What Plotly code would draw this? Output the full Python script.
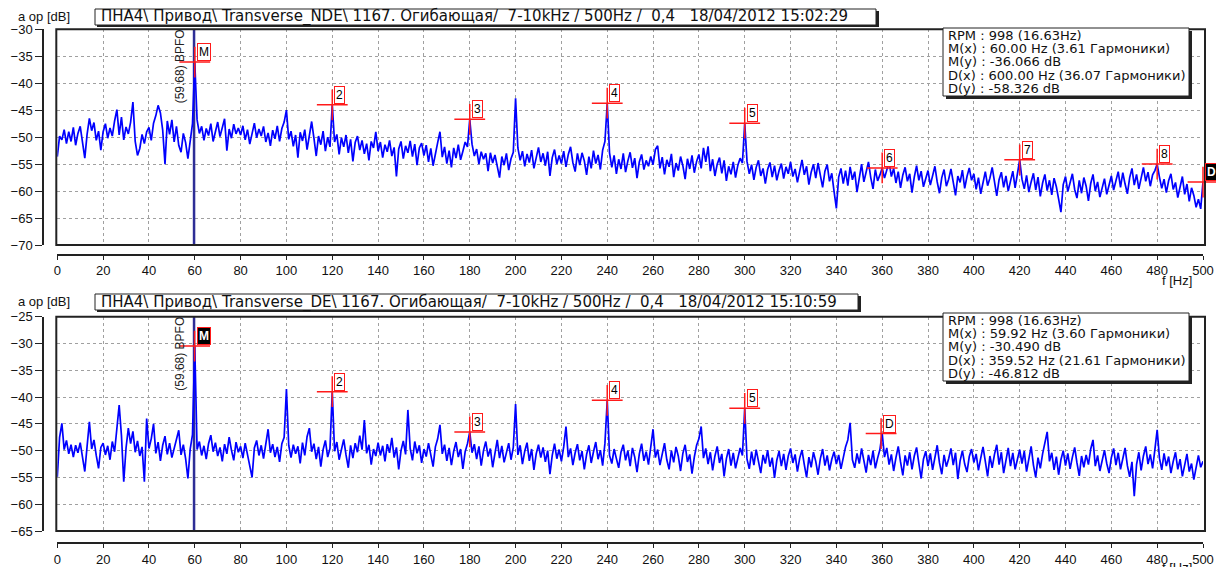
import plotly.graph_objects as go

# ---------------- data ----------------
freq_hz = list(range(0, 501))

# Transverse_NDE envelope spectrum, dB (0..500 Hz, 1 Hz step)
nde_db = [
    -53.6, -49.8, -50.5, -48.6, -51.2, -49.0, -50.8, -48.2, -51.5, -49.3, -48.0, -51.0, -53.9, -49.5, -46.5, -48.8, -47.3, -50.6, -48.9, -52.4,
    -49.0, -47.5, -50.2, -48.3, -49.8, -47.0, -44.9, -49.6, -46.3, -50.5, -48.1, -49.4, -47.2, -43.5, -50.8, -53.4, -52.1, -49.5, -51.2, -49.0,
    -48.2, -50.6, -47.4, -46.0, -44.1, -45.5, -48.7, -55.0, -47.0, -49.5, -46.8, -50.9, -48.0, -51.5, -52.8, -49.3, -51.0, -54.0, -50.2, -47.5,
    -36.1, -46.8, -49.3, -48.0, -50.6, -48.4, -49.7, -47.5, -50.8, -48.8, -47.2, -49.9, -48.1, -46.6, -52.5, -48.5, -50.2, -47.6, -49.4, -48.3,
    -49.6, -47.9, -50.5, -48.6, -51.3, -49.0, -47.4, -50.1, -48.5, -49.8, -48.0, -50.9, -49.2, -51.6, -48.7, -50.3, -47.9, -50.8, -48.4, -47.2,
    -45.0, -50.4, -48.9, -51.7, -49.6, -53.8, -49.1, -50.7, -48.6, -52.3, -49.4, -47.1, -50.2, -53.5, -49.8, -51.4, -48.9, -52.6, -50.0, -51.8,
    -44.0, -50.9, -49.5, -53.2, -50.1, -51.8, -49.6, -52.9, -50.4, -54.5, -51.0, -49.8, -52.4, -50.6, -53.1, -51.2, -54.3, -50.8, -52.0, -49.0,
    -52.6, -50.9, -53.8, -51.4, -52.7, -50.6, -53.5, -51.9, -57.3, -52.2, -50.8, -54.0, -51.6, -52.9, -50.7, -53.6, -51.3, -55.2, -52.0, -51.1,
    -53.4, -51.5, -54.6, -52.1, -55.3, -52.8, -51.0, -49.0, -53.7, -51.8, -54.9, -52.5, -55.6, -52.0, -53.9, -51.4, -54.2, -52.6, -50.9, -51.8,
    -46.7, -51.3, -53.5, -52.2, -55.0, -52.7, -54.1, -53.0, -56.3, -52.9, -54.8, -53.3, -55.7, -57.5, -53.6, -55.2, -53.0, -56.1, -54.0, -52.8,
    -42.8, -52.0, -54.3, -52.6, -55.4, -53.1, -54.7, -52.4, -55.8, -53.5, -51.9, -54.6, -53.0, -55.3, -52.7, -57.2, -53.8, -52.3, -55.0, -53.4,
    -54.9, -52.6, -55.5, -53.2, -51.8, -54.7, -56.4, -53.0, -55.2, -52.9, -54.4, -57.0, -53.6, -55.8, -52.5, -54.9, -53.3, -56.0, -52.4, -50.8,
    -43.7, -52.9, -55.6, -53.4, -56.8, -54.1, -55.9, -53.0, -56.5, -54.4, -52.8, -55.7, -53.9, -57.6, -54.6, -53.2, -56.0, -54.3, -55.4, -53.6,
    -55.1, -52.3, -51.6, -55.8, -53.7, -56.9, -54.2, -55.5, -53.1, -57.4, -54.8, -56.2, -53.6, -55.3, -57.8, -54.0, -55.9, -53.4, -56.6, -54.5,
    -53.2, -55.8, -52.0, -54.6, -51.7, -56.3, -54.1, -57.2, -55.0, -53.8, -56.7, -54.3, -58.1, -55.4, -56.9, -54.6, -57.5, -55.2, -53.9, -54.8,
    -47.4, -54.5, -56.8, -55.1, -57.9, -55.6, -54.3, -57.2, -55.8, -58.6, -56.0, -54.7, -57.4, -55.3, -58.0, -56.2, -54.9, -57.7, -55.5, -56.8,
    -54.6, -57.3, -55.9, -58.4, -56.1, -54.2, -57.0, -55.4, -58.8, -56.5, -55.0, -57.6, -54.8, -56.9, -59.3, -56.3, -55.1, -58.2, -56.7, -60.1,
    -63.2, -57.4, -55.8, -58.6, -56.2, -59.0, -55.5, -57.9, -56.4, -60.2, -57.1, -55.0, -58.3, -56.6, -54.6, -57.5, -59.6, -56.0, -58.1, -57.0,
    -55.7, -57.6, -56.0, -54.6, -57.3, -55.8, -58.5, -56.4, -59.4, -57.0, -55.6, -58.2, -56.8, -60.3, -57.4, -55.3, -58.0, -56.3, -59.2, -57.7,
    -56.2, -58.9, -57.1, -55.4, -58.3, -60.4, -57.5, -56.0, -59.1, -57.8, -55.9, -58.6, -60.8, -57.2, -58.4, -56.1, -59.5, -57.3, -55.7, -58.0,
    -56.8, -59.7, -57.5, -60.5, -58.2, -56.4, -59.0, -57.6, -55.6, -58.7, -60.9, -57.9, -56.5, -59.3, -57.2, -60.0, -58.1, -56.3, -59.4, -57.0,
    -54.2, -57.8, -59.6, -57.1, -60.2, -58.3, -56.7, -59.8, -57.4, -61.0, -58.5, -56.9, -59.9, -58.0, -60.7, -57.6, -59.2, -61.5, -63.9, -58.8,
    -57.3, -60.1, -58.4, -56.8, -59.7, -61.3, -58.0, -60.4, -57.5, -59.1, -61.8, -58.6, -56.9, -60.0, -58.3, -61.1, -59.4, -57.7, -60.6, -58.9,
    -57.2, -59.8, -58.0, -56.4, -59.3, -56.6, -58.7, -60.5, -57.5, -55.8, -58.9, -56.9, -59.6, -57.3, -55.6, -58.2, -56.5, -59.1, -57.0, -56.2,
    -55.0, -57.4, -59.5, -57.8, -60.3, -58.1, -56.8, -59.7, -58.4, -61.2, -58.9, -57.3, -60.6, -58.7, -61.9, -59.4, -60.8, -63.0, -61.5, -63.3,
    -58.3,
]

# Transverse_DE envelope spectrum, dB (0..500 Hz, 1 Hz step)
de_db = [
    -54.9, -47.5, -44.9, -49.8, -48.1, -50.6, -48.9, -51.2, -49.0, -50.4, -48.5, -51.6, -53.9, -49.2, -44.6, -49.7, -48.0, -50.9, -53.3, -49.4,
    -48.6, -50.8, -49.1, -51.7, -48.3, -50.2, -46.0, -41.5, -47.2, -55.8, -49.5, -45.8, -48.7, -46.4, -50.3, -48.2, -51.0, -49.3, -55.8, -44.0,
    -49.6, -47.8, -45.0, -50.5, -48.4, -51.9, -49.0, -47.3, -50.7, -48.6, -51.3, -49.5, -47.6, -46.2, -50.8, -48.9, -51.5, -55.2, -49.7, -47.0,
    -30.5, -49.8, -48.3, -50.9, -49.1, -51.6, -48.7, -47.1, -50.2, -48.5, -51.0, -49.4, -52.0, -48.8, -50.6, -47.5, -49.9, -51.8, -48.4, -50.3,
    -49.2, -51.4, -48.6, -50.7, -52.3, -55.0, -49.5, -48.1, -50.9, -49.0, -51.5, -48.3, -46.0, -50.4, -48.8, -51.2, -49.3, -52.1, -48.7, -47.5,
    -38.5, -49.0, -51.3, -48.9, -50.6, -49.2, -52.4, -48.5, -50.9, -47.4, -45.8, -50.2, -48.7, -51.6, -49.3, -53.0, -49.8, -48.1, -51.2, -49.6,
    -39.0, -50.1, -48.4, -51.7, -49.5, -47.9, -50.8, -53.2, -49.0, -51.4, -48.6, -50.3, -47.2, -49.8, -44.3, -50.5, -48.9, -52.6, -49.7, -51.0,
    -48.5, -50.9, -49.1, -52.0, -48.8, -50.4, -47.6, -51.3, -49.4, -53.5, -50.0, -48.2, -50.7, -42.4, -49.6, -51.8, -48.3, -50.5, -49.0, -52.3,
    -49.7, -51.1, -48.6, -50.8, -53.0, -49.3, -47.8, -45.2, -50.6, -48.9, -51.9, -49.5, -52.7, -50.1, -48.4, -51.2, -49.7, -53.4, -50.2, -48.7,
    -46.5, -50.4, -48.8, -51.6, -49.2, -52.8, -50.0, -48.3, -51.1, -49.6, -53.1, -50.5, -48.0, -51.4, -49.1, -52.2, -50.3, -48.6, -51.7, -49.4,
    -41.3, -50.8, -49.0, -52.5, -50.1, -48.5, -51.9, -49.7, -53.6, -50.6, -48.9, -51.3, -49.4, -52.1, -50.0, -54.4, -50.9, -48.7, -51.5, -49.8,
    -52.0, -49.3, -45.5, -51.2, -49.6, -52.7, -50.4, -48.8, -51.8, -50.1, -53.5, -50.7, -49.0, -52.3, -50.2, -48.4, -51.6, -49.9, -52.8, -48.6,
    -40.6, -50.9, -52.4, -49.7, -51.5, -53.2, -50.3, -48.9, -51.8, -50.0, -52.9, -49.5, -51.2, -54.0, -50.6, -48.7, -51.9, -50.2, -52.6, -49.4,
    -46.0, -51.3, -49.8, -52.7, -50.4, -48.6, -51.7, -53.5, -50.0, -52.2, -49.3, -51.0, -53.8, -50.5, -48.9, -52.1, -50.7, -54.3, -51.2, -49.0,
    -47.8, -45.5, -51.4, -49.6, -52.5, -50.3, -53.7, -51.0, -49.2, -52.3, -50.6, -54.8, -51.5, -49.7, -52.8, -50.4, -53.3, -51.1, -49.5, -50.9,
    -42.1, -51.6, -53.4, -50.2, -52.7, -49.8, -51.9, -54.2, -50.8, -52.4, -49.9, -53.0, -51.3, -55.1, -51.8, -50.1, -52.9, -50.6, -53.6, -51.0,
    -49.6, -52.3, -50.7, -53.9, -51.4, -49.9, -52.6, -55.0, -51.2, -53.1, -50.3, -52.0, -54.5, -51.5, -49.7, -52.8, -50.9, -53.7, -51.6, -50.2,
    -52.5, -50.8, -53.4, -51.1, -49.3, -48.0, -44.8, -51.7, -53.2, -50.5, -52.4, -49.6, -51.9, -54.1, -50.8, -52.7, -50.0, -53.3, -51.4, -49.8,
    -46.8, -51.2, -49.5, -52.6, -50.7, -53.8, -51.3, -49.2, -52.1, -54.6, -50.9, -52.8, -50.3, -53.5, -51.0, -49.4, -52.4, -55.2, -51.6, -50.1,
    -52.9, -50.5, -53.6, -51.2, -49.0, -52.3, -54.4, -50.8, -53.0, -51.5, -49.6, -52.7, -50.4, -55.3, -51.9, -50.0, -52.5, -54.0, -51.1, -49.7,
    -52.2, -50.6, -53.7, -51.4, -49.3, -52.0, -54.8, -51.0, -53.2, -50.7, -48.9, -52.6, -50.3, -54.2, -51.8, -49.5, -52.9, -50.4, -53.5, -51.3,
    -49.8, -52.4, -50.1, -53.9, -51.5, -49.2, -52.7, -55.0, -51.3, -53.3, -50.6, -48.7, -46.5, -52.0, -50.4, -53.6, -51.1, -54.5, -51.7, -50.0,
    -52.8, -50.5, -53.4, -51.2, -49.4, -52.3, -54.7, -51.0, -53.1, -50.8, -52.6, -49.7, -48.0, -52.9, -50.9, -53.8, -51.6, -49.9, -52.4, -54.2,
    -51.3, -49.6, -52.7, -50.4, -53.5, -51.2, -49.5, -52.8, -54.9, -52.1, -58.5, -52.6, -50.3, -53.7, -51.0, -49.2, -52.5, -50.7, -53.3, -49.8,
    -46.1, -51.4, -53.6, -50.5, -52.9, -51.1, -54.2, -52.0, -50.3, -53.5, -51.6, -54.8, -52.3, -50.6, -53.9, -52.4, -55.4, -52.7, -50.9, -53.1,
    -52.0,
]

# harmonic markers
nde_mark_f = [60, 120, 180, 240, 300, 360, 420, 480, 500]
nde_mark_db = [-36.07, -44.0, -46.7, -43.7, -47.4, -55.7, -54.2, -55.0, -58.33]
nde_mark_lbl = ["M", "2", "3", "4", "5", "6", "7", "8", "D"]

de_mark_f = [59.92, 120, 180, 240, 300, 359.52]
de_mark_db = [-30.49, -39.0, -46.5, -40.6, -42.1, -46.81]
de_mark_lbl = ["M", "2", "3", "4", "5", "D"]

bpfo_hz = 59.68
bpfo_text = "(59.68) BPFO"

x_ticks = list(range(0, 501, 20))
nde_y_range = [-70, -30]
de_y_range = [-65, -25]

nde_title = ("ПНА4\\ Привод\\ Transverse_NDE\\ 1167. Огибающая/\u00a0 7-10kHz / 500Hz /\u00a0 0,4\u00a0\u00a0 "
             "18/04/2012 15:02:29")
de_title = ("ПНА4\\ Привод\\ Transverse_DE\\ 1167. Огибающая/\u00a0 7-10kHz / 500Hz /\u00a0 0,4\u00a0\u00a0 "
            "18/04/2012 15:10:59")
nde_info = ["RPM : 998 (16.63Hz)", "M(x) : 60.00 Hz (3.61 Гармоники)", "M(y) : -36.066 dB",
            "D(x) : 600.00 Hz (36.07 Гармоники)", "D(y) : -58.326 dB"]
de_info = ["RPM : 998 (16.63Hz)", "M(x) : 59.92 Hz (3.60 Гармоники)", "M(y) : -30.490 dB",
           "D(x) : 359.52 Hz (21.61 Гармоники)", "D(y) : -46.812 dB"]
y_label = "a op [dB]"
x_label = "f [Hz]"

# ---------------- figure ----------------
W, H = 1216, 567
FONT = "Liberation Sans, Arial, sans-serif"
WIDE = "DejaVu Sans, Verdana, sans-serif"


def fx(p):
    return p / W


def fy(p):
    return 1 - p / H


fig = go.Figure()

panels = [
    dict(xa="x", ya="y", data=nde_db, mf=nde_mark_f, mdb=nde_mark_db, ml=nde_mark_lbl,
         top=29.3, bot=245.0, axis_y=255.0, yr=nde_y_range, title=nde_title, title_y=17,
         title_x1=876, info=nde_info, info_y0=28, flabel_y=281, black={"D"}),
    dict(xa="x2", ya="y2", data=de_db, mf=de_mark_f, mdb=de_mark_db, ml=de_mark_lbl,
         top=316.7, bot=531.0, axis_y=543.3, yr=de_y_range, title=de_title, title_y=302,
         title_x1=858, info=de_info, info_y0=313, flabel_y=567, black={"M"}),
]

shapes = []
annotations = []
X0, X1 = 57.3, 1203.0

for i, p in enumerate(panels):
    # BPFO cursor line (drawn first so the spectrum lies over it)
    fig.add_trace(go.Scatter(x=[bpfo_hz, bpfo_hz], y=p["yr"], mode="lines",
                             line=dict(color="#2e2e96", width=2.5),
                             xaxis=p["xa"], yaxis=p["ya"], hoverinfo="skip", showlegend=False))
    fig.add_trace(go.Scatter(x=freq_hz, y=p["data"], mode="lines",
                             line=dict(color="#0000ff", width=1.7),
                             xaxis=p["xa"], yaxis=p["ya"], hoverinfo="skip", showlegend=False))
    fig.add_trace(go.Scatter(x=p["mf"], y=p["mdb"], mode="markers",
                             marker=dict(symbol="cross-thin", size=22,
                                         line=dict(color="#ff1a1a", width=1.5)),
                             xaxis=p["xa"], yaxis=p["ya"], hoverinfo="skip", showlegend=False,
                             cliponaxis=False))
    common_x = dict(domain=[fx(X0), fx(X1)], range=[0, 500], anchor="free",
                    position=fy(p["axis_y"]), showline=True, linecolor="#222", linewidth=1.5,
                    ticks="outside", ticklen=4, tickcolor="#222", tickvals=x_ticks,
                    showgrid=True, gridcolor="#a0a0a0", griddash="dot", gridwidth=1,
                    zeroline=False, tickfont=dict(size=13, color="#111", family=FONT),
                    automargin=False)
    common_y = dict(domain=[fy(p["bot"]), fy(p["top"])], range=p["yr"], anchor="free",
                    position=fx(43), showline=True, linecolor="#222", linewidth=1.5,
                    ticks="outside", ticklen=7, tickcolor="#222", dtick=5, tick0=0,
                    showgrid=True, gridcolor="#a0a0a0", griddash="dot", gridwidth=1,
                    zeroline=False, tickfont=dict(size=13, color="#111", family=FONT),
                    automargin=False)
    if i == 0:
        fig.update_layout(xaxis=common_x, yaxis=common_y)
    else:
        fig.update_layout(xaxis2=common_x, yaxis2=common_y)

    # plot frame
    shapes.append(dict(type="rect", xref="paper", yref="paper", x0=fx(X0 - 1), x1=fx(X1 + 2),
                       y0=fy(p["bot"]), y1=fy(p["top"]),
                       line=dict(color="#222", width=2), layer="above"))
    annotations.append(dict(text=bpfo_text, textangle=-90, x=bpfo_hz, xref=p["xa"],
                            y=fy(p["top"] + 37), yref="paper", xshift=-14,
                            xanchor="center", yanchor="middle", showarrow=False,
                            font=dict(size=12, color="#222", family=FONT)))
    # marker labels
    for f, d, lbl in zip(p["mf"], p["mdb"], p["ml"]):
        blk = lbl in p["black"]
        annotations.append(dict(text="<b>%s</b>" % lbl if blk else lbl, x=f, y=d, xref=p["xa"],
                                yref=p["ya"], xanchor="left", yanchor="bottom", xshift=2,
                                yshift=1, showarrow=False,
                                font=dict(size=12, color="white" if blk else "black", family=FONT),
                                bgcolor="black" if blk else "white", bordercolor="#ff1a1a",
                                borderwidth=1, borderpad=1))
    # header
    ty = p["title_y"]
    annotations.append(dict(text=y_label, x=fx(16), y=fy(ty - 1), xref="paper", yref="paper",
                            xanchor="left", yanchor="middle", showarrow=False,
                            font=dict(size=13, color="#111", family=FONT)))
    shapes.append(dict(type="rect", xref="paper", yref="paper", x0=fx(97), x1=fx(p["title_x1"] + 3),
                       y0=fy(ty + 10), y1=fy(ty - 6), fillcolor="#222", line=dict(width=0),
                       layer="above"))
    shapes.append(dict(type="rect", xref="paper", yref="paper", x0=fx(95), x1=fx(p["title_x1"]),
                       y0=fy(ty + 8), y1=fy(ty - 8), fillcolor="white",
                       line=dict(color="#222", width=1), layer="above"))
    annotations.append(dict(text=p["title"], x=fx(99), y=fy(ty), xref="paper", yref="paper",
                            xanchor="left", yanchor="middle", showarrow=False,
                            font=dict(size=15, color="#111", family=WIDE)))
    # info box
    iy = p["info_y0"]
    shapes.append(dict(type="rect", xref="paper", yref="paper", x0=fx(946), x1=fx(1192),
                       y0=fy(iy + 71), y1=fy(iy + 3), fillcolor="#222", line=dict(width=0),
                       layer="above"))
    shapes.append(dict(type="rect", xref="paper", yref="paper", x0=fx(943), x1=fx(1189),
                       y0=fy(iy + 68), y1=fy(iy), fillcolor="white",
                       line=dict(color="#222", width=1), layer="above"))
    for k, line in enumerate(p["info"]):
        annotations.append(dict(text=line, x=fx(946), y=fy(iy + 7 + 13.4 * k), xref="paper",
                                yref="paper", xanchor="left", yanchor="middle", showarrow=False,
                                font=dict(size=13, color="#111", family=WIDE)))
    # f [Hz]
    annotations.append(dict(text=x_label, x=fx(1177), y=fy(p["flabel_y"]), xref="paper",
                            yref="paper", xanchor="center", yanchor="middle", showarrow=False,
                            font=dict(size=13, color="#111", family=FONT)))

fig.update_layout(width=W, height=H, margin=dict(l=0, r=0, t=0, b=0),
                  paper_bgcolor="white", plot_bgcolor="white", showlegend=False,
                  font=dict(family=FONT, color="#111"),
                  shapes=shapes, annotations=annotations)

fig.write_html("out.html", config={"displayModeBar": False},
               post_script="document.body.style.margin='0px';")
